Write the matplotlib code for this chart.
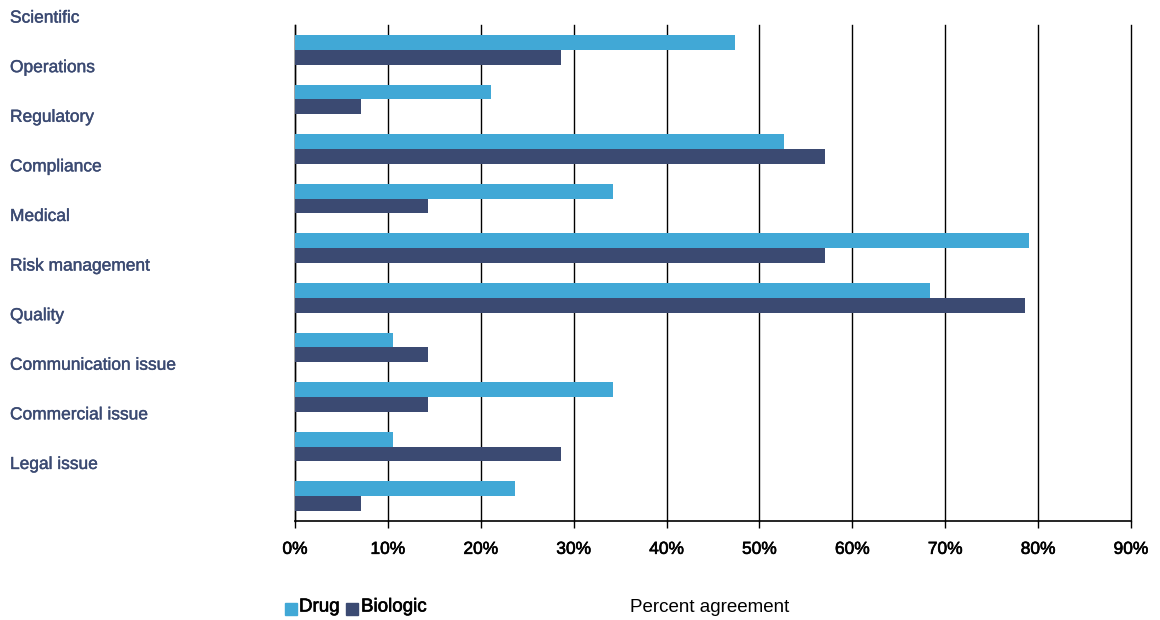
import numpy as np
import matplotlib.pyplot as plt
import matplotlib.patheffects as pe
from matplotlib.transforms import blended_transform_factory

categories = ['Scientific', 'Operations', 'Regulatory', 'Compliance', 'Medical',
              'Risk management', 'Quality', 'Communication issue',
              'Commercial issue', 'Legal issue']
drug = [47.4, 21.1, 52.6, 34.2, 79.0, 68.4, 10.5, 34.2, 10.5, 23.7]
biologic = [28.6, 7.1, 57.1, 14.3, 57.1, 78.6, 14.3, 14.3, 28.6, 7.1]
xticks = [0, 10, 20, 30, 40, 50, 60, 70, 80, 90]

drug_col = '#41A8D6'
bio_col = '#3B4A72'

plt.rcParams['font.family'] = ['Liberation Sans', 'DejaVu Sans']
thick = [pe.withStroke(linewidth=0.45, foreground='black')]

fig = plt.figure(figsize=(11.6, 6.2), dpi=100)
ax = fig.add_axes([295/1160, 1-521/620, (1131-295)/1160, (521-25)/620])

y = np.arange(len(categories))
h = 0.30
ax.barh(y - h/2, drug, height=h, color=drug_col, zorder=3)
ax.barh(y + h/2, biologic, height=h, color=bio_col, zorder=3)

ax.set_xlim(0, 90)
ax.set_ylim(len(categories) - 0.5, -0.5)
ax.set_xticks(xticks)
ax.set_xticklabels([f'{v}%' for v in xticks], fontsize=12.5, path_effects=thick)
ax.set_yticks([])
ax.tick_params(axis='x', length=5, width=1, color='black', pad=10)
for v in xticks:
    ax.axvline(v, color='black', lw=1, zorder=1, clip_on=False)
for s in ['top', 'right']:
    ax.spines[s].set_visible(False)
ax.spines['left'].set_linewidth(1)
ax.spines['bottom'].set_linewidth(1.2)

# category labels sit above their bars, as in the source
tr = blended_transform_factory(fig.transFigure, ax.transData)
for i, c in enumerate(categories):
    ax.text(10/1160, i - 0.64, c, transform=tr, fontsize=12.5, color=bio_col,
            ha='left', va='center', clip_on=False,
            path_effects=[pe.withStroke(linewidth=0.3, foreground=bio_col)])

# legend
fig.patches.append(plt.Rectangle((285/1160, 1-615/620), 12/1160, 12/620,
                                 transform=fig.transFigure, color=drug_col))
fig.text(299/1160, 1-607/620, 'Drug', fontsize=13.5, va='center', ha='left',
         path_effects=thick)
fig.patches.append(plt.Rectangle((346/1160, 1-615/620), 12/1160, 12/620,
                                 transform=fig.transFigure, color=bio_col))
fig.text(361/1160, 1-607/620, 'Biologic', fontsize=13.5, va='center', ha='left',
         path_effects=thick)

fig.text(710/1160, 1-608/620, 'Percent agreement', fontsize=13.5, va='center', ha='center')

fig.savefig('out.png', dpi=100)
